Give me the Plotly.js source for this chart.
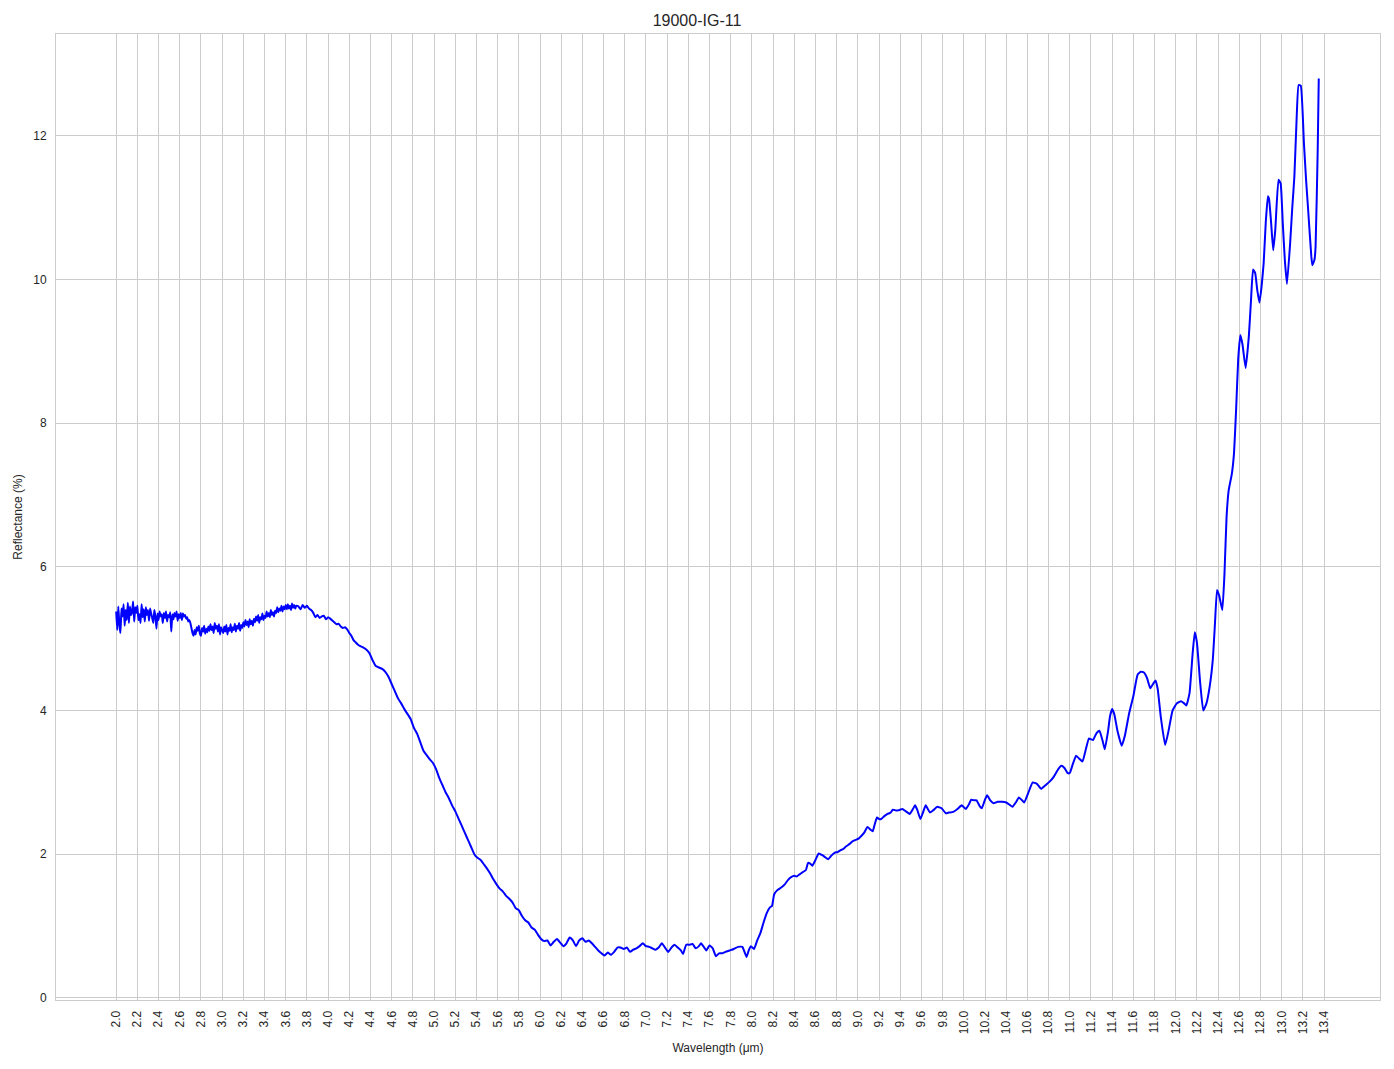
<!DOCTYPE html>
<html>
<head>
<meta charset="utf-8">
<script src="https://cdn.plot.ly/plotly-3.0.1.min.js"></script>
<style>html,body{margin:0;padding:0;background:#fff;}#chart{width:1394px;height:1069px;}</style>
</head>
<body>
<div id="chart"></div>
<script>
// Wavelength (µm) and reflectance (%)
const wavelengthA = [
2.00,2.01,2.02,2.03,2.04,2.05,2.06,2.07,2.08,2.09,
2.10,2.11,2.12,2.13,2.14,2.15,2.16,2.17,2.18,2.19,
2.20,2.21,2.22,2.23,2.24,2.25,2.26,2.27,2.28,2.29,
2.30,2.31,2.32,2.33,2.34,2.35,2.36,2.37,2.38,2.39,
2.40,2.41,2.42,2.43,2.44,2.45,2.46,2.47,2.48,2.49,
2.50,2.51,2.52,2.53,2.54,2.55,2.56,2.57,2.58,2.59,
2.60,2.61,2.62,2.63,2.64,2.65,2.66,2.67,2.68,2.69,
2.70,2.71,2.72,2.73,2.74,2.75,2.76,2.77,2.78,2.79,
2.80,2.81,2.82,2.83,2.84,2.85,2.86,2.87,2.88,2.89,
2.90,2.91,2.92,2.93,2.94,2.95,2.96,2.97,2.98,2.99,3.00];
const reflectanceA = [
5.38,5.12,5.45,5.20,5.08,5.42,5.31,5.48,5.18,5.40,
5.26,5.50,5.22,5.45,5.33,5.38,5.52,5.24,5.44,5.36,
5.46,5.26,5.34,5.22,5.48,5.30,5.41,5.24,5.44,5.33,
5.40,5.25,5.42,5.35,5.29,5.22,5.40,5.31,5.14,5.35,
5.26,5.38,5.31,5.34,5.22,5.36,5.29,5.38,5.24,5.33,
5.30,5.37,5.10,5.34,5.27,5.36,5.31,5.38,5.25,5.34,
5.29,5.36,5.26,5.35,5.31,5.33,5.28,5.30,5.24,5.26,
5.22,5.15,5.08,5.04,5.12,5.06,5.16,5.11,5.18,5.07,
5.04,5.15,5.10,5.18,5.07,5.14,5.09,5.17,5.11,5.20,
5.12,5.17,5.08,5.22,5.14,5.18,5.10,5.20,5.06,5.16,5.12];
const wavelengthB = [
3.01,3.02,3.03,3.04,3.05,3.06,3.07,3.08,3.09,3.10,
3.11,3.12,3.13,3.14,3.15,3.16,3.17,3.18,3.19,3.20,
3.21,3.22,3.23,3.24,3.25,3.26,3.27,3.28,3.29,3.30,
3.31,3.32,3.33,3.34,3.35,3.36,3.37,3.38,3.39,3.40,
3.41,3.42,3.43,3.44,3.45,3.46,3.47,3.48,3.49,3.50,
3.51,3.52,3.53,3.54,3.55,3.56,3.57,3.58,3.59,3.60,
3.61,3.62,3.63,3.64,3.65,3.66,3.67,3.68,3.69,3.70,
3.72,3.74,3.76,3.78,3.80,3.82,3.84,3.86,3.88,3.90,
3.92,3.94,3.96,3.98,4.00];
const reflectanceB = [
5.08,5.17,5.10,5.19,5.06,5.15,5.11,5.20,5.09,5.16,
5.12,5.21,5.10,5.18,5.14,5.22,5.11,5.19,5.15,5.23,
5.17,5.26,5.19,5.24,5.16,5.27,5.20,5.25,5.18,5.28,
5.23,5.31,5.25,5.33,5.22,5.30,5.27,5.35,5.26,5.32,
5.29,5.38,5.31,5.36,5.30,5.40,5.33,5.37,5.31,5.39,
5.36,5.44,5.37,5.42,5.39,5.46,5.38,5.45,5.41,5.47,
5.41,5.48,5.42,5.46,5.40,5.49,5.43,5.47,5.42,5.46,
5.45,5.41,5.47,5.43,5.46,5.42,5.40,5.36,5.30,5.33,
5.29,5.31,5.32,5.27,5.30];
const wavelengthC = [
4.02,4.05,4.08,4.10,4.12,4.14,4.16,4.18,4.20,4.22,4.24,4.26,4.28,4.30,4.33,4.36,4.39,4.42,4.45,4.48,
4.51,4.54,4.57,4.60,4.63,4.66,4.69,4.72,4.75,4.78,4.81,4.84,4.87,4.90,4.93,4.96,4.99,5.02,5.05,5.08,
5.11,5.14,5.17,5.20,5.23,5.26,5.29,5.32,5.35,5.38,5.41,5.44,5.47,5.50,5.53,5.56,5.59,5.62,5.65,5.68,
5.71,5.74,5.77,5.80,5.83,5.86,5.89,5.92,5.95,5.98,6.01,6.04,6.07,6.10,6.13,6.16,6.19,6.22,6.25,6.28,
6.31,6.34,6.37,6.40,6.43,6.46,6.49,6.52,6.55,6.58,6.61,6.64,6.67,6.70,6.73,6.76,6.79,6.82,6.85,6.88,
6.91,6.94,6.97,7.00,7.03,7.06,7.09,7.12,7.15,7.18,7.21,7.24,7.27,7.30,7.33,7.35,7.38,7.41,7.44,7.47,
7.50,7.52,7.55,7.57,7.60,7.63,7.66,7.69,7.72,7.75,7.79,7.83,7.87,7.91,7.93,7.95,7.97,7.99,8.02,8.05];
const reflectanceC = [
5.28,5.24,5.20,5.21,5.17,5.15,5.16,5.13,5.08,5.04,4.98,4.95,4.92,4.90,4.88,4.85,4.80,4.70,4.62,4.60,
4.58,4.54,4.47,4.37,4.27,4.17,4.10,4.02,3.95,3.88,3.76,3.68,3.56,3.44,3.38,3.32,3.27,3.18,3.06,2.96,
2.86,2.78,2.68,2.60,2.50,2.40,2.30,2.20,2.10,2.00,1.95,1.92,1.86,1.80,1.73,1.65,1.58,1.52,1.48,1.42,
1.38,1.33,1.25,1.22,1.14,1.08,1.05,0.98,0.95,0.88,0.82,0.79,0.80,0.73,0.78,0.82,0.77,0.72,0.76,0.84,
0.80,0.72,0.80,0.83,0.78,0.80,0.76,0.71,0.66,0.62,0.59,0.63,0.60,0.64,0.70,0.70,0.68,0.70,0.64,0.67,
0.69,0.72,0.76,0.72,0.71,0.69,0.67,0.70,0.76,0.70,0.64,0.70,0.74,0.70,0.66,0.61,0.74,0.74,0.75,0.69,
0.72,0.76,0.70,0.66,0.73,0.69,0.58,0.62,0.62,0.64,0.66,0.68,0.71,0.71,0.64,0.57,0.66,0.72,0.68,0.80];
const wavelengthD = [
8.08,8.11,8.14,8.17,8.19,8.21,8.24,8.28,8.31,8.34,8.37,8.40,8.42,8.45,8.48,8.51,8.53,8.55,8.57,8.60,
8.63,8.66,8.69,8.72,8.75,8.78,8.81,8.83,8.86,8.89,8.92,8.95,8.98,9.01,9.03,9.06,9.09,9.12,9.14,9.16,
9.18,9.20,9.22,9.25,9.28,9.31,9.33,9.36,9.38,9.40,9.42,9.45,9.47,9.49,9.52,9.54,9.56,9.59,9.61,9.64,
9.66,9.68,9.71,9.75,9.79,9.83,9.86,9.90,9.94,9.98,10.02,10.05,10.07,10.10,10.12,10.15,10.17,10.20,10.22,10.25,
10.28,10.32,10.36,10.40,10.43,10.46,10.49,10.52,10.55,10.57,10.61,10.65,10.69,10.73,10.77,10.81,10.85,10.89,10.92,10.95,
10.98,11.00,11.03,11.06,11.09,11.12,11.15,11.18,11.20,11.22,11.25,11.28,11.31,11.33,11.36,11.38,11.40,11.42,11.45,11.49,
11.52,11.56,11.60,11.64,11.67,11.70,11.73,11.76,11.79,11.81,11.83,11.86,11.90,11.93,11.97,12.01,12.05,12.08,12.10,12.13,
12.16,12.18,12.20,12.23,12.26,12.29,12.32,12.35,12.37,12.39,12.41,12.44,12.46,12.48,12.50,12.53,12.55,12.57,12.59,12.61,
12.63,12.66,12.69,12.71,12.73,12.75,12.77,12.79,12.81,12.83,12.85,12.87,12.88,12.90,12.92,12.94,12.97,12.99,13.01,13.03,
13.05,13.08,13.10,13.12,13.14,13.16,13.18,13.21,13.23,13.25,13.28,13.29,13.31,13.32,13.34,13.35];
const reflectanceD = [
0.90,1.05,1.18,1.26,1.28,1.44,1.50,1.54,1.58,1.64,1.68,1.70,1.69,1.72,1.75,1.78,1.88,1.87,1.84,1.92,
2.01,1.99,1.96,1.93,1.98,2.02,2.03,2.05,2.07,2.11,2.14,2.18,2.20,2.22,2.25,2.30,2.38,2.34,2.32,2.42,
2.51,2.49,2.49,2.53,2.56,2.58,2.62,2.61,2.61,2.62,2.63,2.60,2.58,2.56,2.63,2.68,2.62,2.49,2.56,2.68,
2.63,2.58,2.61,2.66,2.64,2.57,2.58,2.59,2.63,2.68,2.63,2.70,2.76,2.75,2.75,2.67,2.64,2.76,2.82,2.75,
2.71,2.73,2.73,2.72,2.69,2.66,2.72,2.79,2.75,2.72,2.86,3.00,2.98,2.91,2.96,3.01,3.08,3.18,3.23,3.20,
3.13,3.13,3.26,3.37,3.33,3.29,3.45,3.61,3.60,3.59,3.68,3.72,3.58,3.46,3.70,3.92,4.02,3.95,3.72,3.51,
3.65,3.96,4.20,4.50,4.54,4.53,4.45,4.31,4.38,4.42,4.30,3.90,3.52,3.70,4.00,4.10,4.13,4.10,4.07,4.24,
4.80,5.09,4.95,4.40,4.00,4.10,4.33,4.71,5.20,5.68,5.60,5.40,5.90,6.70,7.07,7.30,7.58,8.19,8.90,9.23,
9.10,8.77,9.21,9.70,10.14,10.09,9.85,9.68,9.90,10.23,10.80,11.16,11.13,10.80,10.41,10.70,11.39,11.34,10.80,10.27,
9.94,10.51,11.00,11.44,12.20,12.71,12.70,11.90,11.40,10.97,10.32,10.20,10.28,10.46,11.80,12.80];

const wavelength = wavelengthA.concat(wavelengthB, wavelengthC, wavelengthD);
const reflectance = reflectanceA.concat(reflectanceB, reflectanceC, reflectanceD);

// x tick labels as shown in the reference
const xTickLabels = ["2.0","2.2","2.4","2.6","2.8","3.0","3.2","3.4","3.6","3.8",
  "4.0","4.2","4.4","4.6","4.8","5.0","5.2","5.4","5.6","5.8",
  "6.0","6.2","6.4","6.6","6.8","7.0","7.2","7.4","7.6","7.8",
  "8.0","8.2","8.4","8.6","8.8","9.0","9.2","9.4","9.6","9.8",
  "10.0","10.2","10.4","10.6","10.8","11.0","11.2","11.4","11.6","11.8",
  "12.0","12.2","12.4","12.6","12.8","13.0","13.2","13.4"];
const yTickLabels = ["0","2","4","6","8","10","12"];

const titleText = "19000-IG-11";
const xTitle = "Wavelength (μm)";
const yTitle = "Reflectance (%)";

const font = "Liberation Sans, Arial, sans-serif";
const textColor = "#262626";
const gridColor = "#cccccc";

Plotly.newPlot("chart", [{
  x: wavelength,
  y: reflectance,
  type: "scatter",
  mode: "lines",
  line: {color: "#0000ff", width: 2, shape: "spline", smoothing: 0.4},
  hoverinfo: "x+y"
}], {
  width: 1394,
  height: 1069,
  paper_bgcolor: "#ffffff",
  plot_bgcolor: "#ffffff",
  margin: {l: 56, r: 14, t: 34, b: 69},
  showlegend: false,
  font: {family: font, color: textColor, size: 12},
  title: {text: titleText, x: 0.5, xanchor: "center", y: 1 - 20/1069, yanchor: "middle",
          font: {family: font, size: 16, color: textColor}},
  xaxis: {
    range: [1.432, 13.928],
    tickmode: "array",
    tickvals: xTickLabels.map(Number),
    ticktext: xTickLabels,
    tickangle: -90,
    tickfont: {family: font, size: 12, color: textColor},
    showgrid: true, gridcolor: gridColor, gridwidth: 1,
    zeroline: false,
    showline: true, linecolor: gridColor, linewidth: 1, mirror: true,
    ticks: "", ticklabelstandoff: 5,
    title: {text: xTitle, font: {family: font, size: 12, color: textColor}, standoff: 10}
  },
  yaxis: {
    range: [-0.03, 13.42],
    tickmode: "array",
    tickvals: yTickLabels.map(Number),
    ticktext: yTickLabels,
    tickfont: {family: font, size: 12, color: textColor},
    showgrid: true, gridcolor: gridColor, gridwidth: 1,
    zeroline: false,
    showline: true, linecolor: gridColor, linewidth: 1, mirror: true,
    ticks: "", ticklabelstandoff: 6,
    title: {text: yTitle, font: {family: font, size: 12, color: textColor}, standoff: 8}
  }
}, {displayModeBar: false, staticPlot: true});
</script>
</body>
</html>
